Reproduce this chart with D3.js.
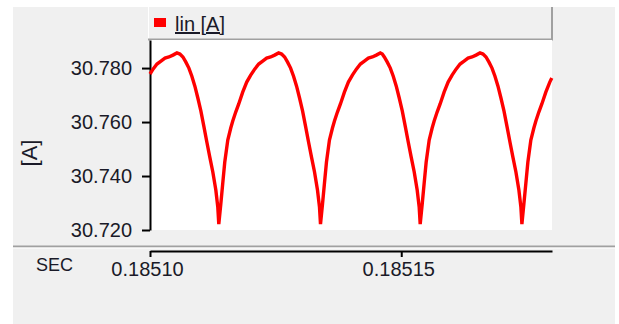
<!DOCTYPE html>
<html><head><meta charset="utf-8">
<script src="https://cdn.jsdelivr.net/npm/d3@7"></script>
<style>html,body{margin:0;padding:0;background:#fff;}svg{display:block;}text{font-family:"Liberation Sans",Arial,sans-serif;fill:#1a1a28;}</style>
</head><body>
<script>
// ---- data ----
const seriesName = "lin [A]";
const yAxisTitle = "[A]";
const xAxisTitle = "SEC";
const yTicks = [30.720, 30.740, 30.760, 30.780];
const xTicks = [0.18510, 0.18515];
const xDomain = [0.18510, 0.18518];
const yDomain = [30.720, 30.7904];
const timeSec = [
 0.18510000,0.18510060,0.18510139,0.18510218,0.18510298,0.18510377,0.18510456,0.18510536,0.18510595,0.18510655,0.18510714,0.18510774,0.18510833,0.18510893,0.18510952,0.18511012,0.18511071,0.18511131,0.18511190,0.18511250,0.18511310,0.18511349,0.18511369,
 0.18511409,0.18511448,0.18511488,0.18511548,0.18511607,0.18511647,0.18511706,0.18511766,0.18511845,0.18511925,0.18512004,0.18512083,0.18512163,0.18512242,0.18512321,0.18512401,0.18512480,0.18512560,
 0.18512619,0.18512679,0.18512738,0.18512798,0.18512857,0.18512917,0.18512976,0.18513036,0.18513095,0.18513155,0.18513214,0.18513274,0.18513333,0.18513373,0.18513393,
 0.18513433,0.18513472,0.18513512,0.18513571,0.18513631,0.18513671,0.18513730,0.18513790,0.18513869,0.18513948,0.18514028,0.18514107,0.18514187,0.18514266,0.18514345,0.18514425,0.18514504,0.18514583,
 0.18514623,0.18514663,0.18514722,0.18514782,0.18514841,0.18514901,0.18514960,0.18515020,0.18515079,0.18515139,0.18515198,0.18515258,0.18515317,0.18515357,0.18515377,
 0.18515417,0.18515456,0.18515496,0.18515556,0.18515615,0.18515655,0.18515714,0.18515774,0.18515853,0.18515933,0.18516012,0.18516091,0.18516171,0.18516250,0.18516329,0.18516409,0.18516488,0.18516567,
 0.18516627,0.18516687,0.18516746,0.18516806,0.18516865,0.18516925,0.18516984,0.18517044,0.18517103,0.18517163,0.18517222,0.18517282,0.18517341,0.18517381,0.18517401,
 0.18517440,0.18517480,0.18517520,0.18517579,0.18517639,0.18517679,0.18517738,0.18517798,0.18517877,0.18517956,0.18517996
];
const linA = [
 30.7778,30.7796,30.7815,30.7826,30.7837,30.7841,30.7848,30.7856,30.7852,30.7841,30.7822,30.7800,30.7770,30.7733,30.7689,30.7641,30.7585,30.7526,30.7470,30.7415,30.7348,30.7285,30.7222,
 30.7296,30.7374,30.7452,30.7533,30.7578,30.7604,30.7637,30.7667,30.7711,30.7748,30.7774,30.7796,30.7815,30.7826,30.7837,30.7841,30.7848,30.7856,
 30.7852,30.7841,30.7822,30.7800,30.7770,30.7733,30.7689,30.7641,30.7585,30.7526,30.7470,30.7415,30.7348,30.7285,30.7222,
 30.7296,30.7374,30.7452,30.7533,30.7578,30.7604,30.7637,30.7667,30.7711,30.7748,30.7774,30.7796,30.7815,30.7826,30.7837,30.7841,30.7848,30.7856,
 30.7852,30.7841,30.7822,30.7800,30.7770,30.7733,30.7689,30.7641,30.7585,30.7526,30.7470,30.7415,30.7348,30.7285,30.7222,
 30.7296,30.7374,30.7452,30.7533,30.7578,30.7604,30.7637,30.7667,30.7711,30.7748,30.7774,30.7796,30.7815,30.7826,30.7837,30.7841,30.7848,30.7856,
 30.7852,30.7841,30.7822,30.7800,30.7770,30.7733,30.7689,30.7641,30.7585,30.7526,30.7470,30.7415,30.7348,30.7285,30.7222,
 30.7296,30.7374,30.7452,30.7533,30.7578,30.7604,30.7637,30.7667,30.7711,30.7748,30.7763
];

// ---- layout ----
const W = 619, H = 324;
const plot = {left: 150, right: 552, top: 40, bottom: 230};
const svg = d3.select("body").append("svg").attr("width", W).attr("height", H);

// outer panel
svg.append("rect").attr("x", 13).attr("y", 7).attr("width", 602).attr("height", H - 7).attr("fill", "#f0f0f0");

// legend bar
svg.append("rect").attr("x", 148).attr("y", 7).attr("width", plot.right - 148).attr("height", 33).attr("fill", "#f0f0f0");
svg.append("line").attr("x1", 148.5).attr("x2", 148.5).attr("y1", 7).attr("y2", 40).attr("stroke", "#ffffff");
svg.append("line").attr("x1", 148).attr("x2", plot.right + 1).attr("y1", 39.5).attr("y2", 39.5).attr("stroke", "#a0a0a0").attr("stroke-width", 2);
svg.append("line").attr("x1", plot.right).attr("x2", plot.right).attr("y1", 7).attr("y2", 40).attr("stroke", "#a0a0a0").attr("stroke-width", 2);
svg.append("rect").attr("x", 154).attr("y", 18).attr("width", 12).attr("height", 9).attr("fill", "#ff0000");
svg.append("text").attr("x", 175).attr("y", 31).attr("font-size", 20).attr("text-decoration", "underline").text(seriesName);

// plot background
svg.append("rect").attr("x", plot.left).attr("y", plot.top).attr("width", plot.right - plot.left).attr("height", plot.bottom - plot.top).attr("fill", "#ffffff");

const x = d3.scaleLinear().domain(xDomain).range([plot.left, plot.right]);
const y = d3.scaleLinear().domain(yDomain).range([plot.bottom, plot.top]);

// y axis
const yAxis = svg.append("g").attr("transform", `translate(${plot.left},0)`)
  .call(d3.axisLeft(y).tickValues(yTicks).tickFormat(d3.format(".3f")).tickSize(8).tickSizeOuter(0));
yAxis.select(".domain").attr("stroke", "#000").attr("stroke-width", 2);
yAxis.selectAll(".tick line").attr("stroke", "#000").attr("stroke-width", 2);
yAxis.selectAll(".tick text").attr("x", -18).attr("font-size", 20).attr("font-family", "Liberation Sans, Arial, sans-serif").attr("fill", "#1a1a28");

// separator
svg.append("line").attr("x1", 13).attr("x2", 615).attr("y1", 246.5).attr("y2", 246.5).attr("stroke", "#a0a0a0").attr("stroke-width", 2);
svg.append("line").attr("x1", 13).attr("x2", 615).attr("y1", 248).attr("y2", 248).attr("stroke", "#ffffff");

// x axis
const xAxisG = svg.append("g").attr("transform", `translate(0,251)`)
  .call(d3.axisBottom(x).tickValues(xTicks).tickFormat(d3.format(".5f")).tickSize(6).tickSizeOuter(0));
xAxisG.select(".domain").attr("stroke", "#000").attr("stroke-width", 2);
xAxisG.selectAll(".tick line").attr("stroke", "#000").attr("stroke-width", 2);
xAxisG.selectAll(".tick text").attr("x", -3).attr("y", 11).attr("font-size", 20).attr("font-family", "Liberation Sans, Arial, sans-serif").attr("fill", "#1a1a28");

// axis titles
svg.append("text").attr("x", 36).attr("y", 271).attr("font-size", 18).text(xAxisTitle);
svg.append("text").attr("transform", "translate(37,153) rotate(-90)").attr("text-anchor", "middle").attr("font-size", 22).text(yAxisTitle);

// series
const pts = timeSec.map((t, i) => [t, linA[i]]);
svg.append("path").datum(pts)
  .attr("fill", "none").attr("stroke", "#ff0000").attr("stroke-width", 3.4).attr("stroke-linejoin", "miter")
  .attr("d", d3.line().x(d => x(d[0])).y(d => y(d[1])));
</script>
</body></html>
